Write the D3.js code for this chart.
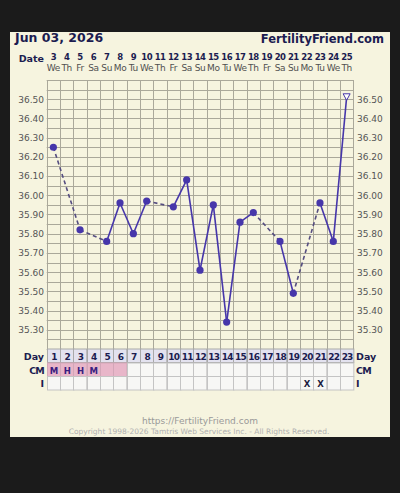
<!DOCTYPE html>
<html>
<head>
<meta charset="utf-8">
<script src="https://cdn.jsdelivr.net/npm/d3@7"></script>
<style>
  body { margin: 0; background: #1b1b1b; }
  svg { display: block; font-family: "DejaVu Sans", Verdana, sans-serif; }
</style>
</head>
<body>
<div id="chart"></div>
<script>
var days = [1,2,3,4,5,6,7,8,9,10,11,12,13,14,15,16,17,18,19,20,21,22,23];
var dates = [3,4,5,6,7,8,9,10,11,12,13,14,15,16,17,18,19,20,21,22,23,24,25];
var weekdays = ['We','Th','Fr','Sa','Su','Mo','Tu','We','Th','Fr','Sa','Su','Mo','Tu','We','Th','Fr','Sa','Su','Mo','Tu','We','Th'];
var temps = [36.25, null, 35.82, null, 35.76, 35.96, 35.80, 35.97, null, 35.94, 36.08, 35.61, 35.95, 35.34, 35.86, 35.91, null, 35.76, 35.49, null, 35.96, 35.76, 36.51];
var openPoint = [23];   // drawn as an open triangle
var cmValues = ['M','H','H','M','','','','','','','','','','','','','','','','','','',''];
var cmPink = 6;         // days shaded pink in CM row
var intercourse = [20, 21];
var yTicks = [35.30,35.40,35.50,35.60,35.70,35.80,35.90,36.00,36.10,36.20,36.30,36.40,36.50];

var W = 400, H = 493;
var svg = d3.select('#chart').append('svg').attr('width', W).attr('height', H);

// cream panel
svg.append('rect').attr('x', 10).attr('y', 32).attr('width', 380).attr('height', 405).attr('fill', '#f6f4df');

var x = d3.scaleBand().domain(days).range([46.7, 353.3]);
var y = d3.scaleLinear().domain([35.2, 36.6]).range([349, 80]);
var navy = '#1c1c50';

// header
svg.append('text').attr('x', 15).attr('y', 42).attr('font-size', 12.5).attr('font-weight', 'bold')
    .attr('fill', navy).text('Jun 03, 2026');
svg.append('text').attr('x', 384).attr('y', 43).attr('text-anchor', 'end').attr('font-size', 11.5)
    .attr('font-weight', 'bold').attr('fill', navy).text('FertilityFriend.com');
svg.append('text').attr('x', 44).attr('y', 62).attr('text-anchor', 'end').attr('font-size', 9.5)
    .attr('font-weight', 'bold').attr('fill', navy).text('Date');

svg.selectAll('.dnum').data(dates).enter().append('text')
    .attr('x', (d, i) => x(days[i]) + x.bandwidth() / 2).attr('y', 59.5)
    .attr('text-anchor', 'middle').attr('font-size', 8.5).attr('font-weight', 'bold')
    .attr('letter-spacing', -0.6).attr('fill', navy).text(d => d);
svg.selectAll('.wday').data(weekdays).enter().append('text')
    .attr('x', (d, i) => x(days[i]) + x.bandwidth() / 2).attr('y', 71)
    .attr('text-anchor', 'middle').attr('font-size', 9).attr('fill', '#505050')
    .attr('letter-spacing', -0.4).text(d => d);

// grid
var g = svg.append('g');
g.selectAll('.hl').data(d3.range(0, 29)).enter().append('line')
    .attr('x1', 46.7).attr('x2', 353.3)
    .attr('y1', d => Math.round(y(35.2 + d * 0.05)) + 0.5).attr('y2', d => Math.round(y(35.2 + d * 0.05)) + 0.5)
    .attr('stroke', '#aaa89a').attr('stroke-width', 1);
g.selectAll('.vl').data(days.concat([24])).enter().append('line')
    .attr('x1', d => Math.round(d <= 23 ? x(d) : x.range()[1]) + 0.5)
    .attr('x2', d => Math.round(d <= 23 ? x(d) : x.range()[1]) + 0.5)
    .attr('y1', 80).attr('y2', 349)
    .attr('stroke', '#aaa89a').attr('stroke-width', 1);

// y axes
var fmt = d3.format('.2f');
svg.append('g').attr('transform', 'translate(44,0)')
    .call(d3.axisLeft(y).tickValues(yTicks).tickFormat(fmt).tickSize(0).tickPadding(0))
    .call(a => a.select('.domain').remove())
    .call(a => a.selectAll('text').attr('font-size', 9).attr('fill', '#555').attr('font-family', '"DejaVu Sans", sans-serif'));
svg.append('g').attr('transform', 'translate(357,0)')
    .call(d3.axisRight(y).tickValues(yTicks).tickFormat(fmt).tickSize(0).tickPadding(0))
    .call(a => a.select('.domain').remove())
    .call(a => a.selectAll('text').attr('font-size', 9).attr('fill', '#555').attr('font-family', '"DejaVu Sans", sans-serif'));

// temperature line
var pts = [];
temps.forEach((t, i) => { if (t != null) pts.push({day: days[i], t: t}); });
var cx = d => x(d.day) + x.bandwidth() / 2;
var purple = '#4636aa';
for (var i = 0; i < pts.length - 1; i++) {
    var a = pts[i], b = pts[i + 1];
    var gap = b.day - a.day > 1;
    svg.append('line')
        .attr('x1', cx(a)).attr('y1', y(a.t)).attr('x2', cx(b)).attr('y2', y(b.t))
        .attr('stroke', gap ? '#554d80' : purple)
        .attr('stroke-width', 1.6)
        .attr('stroke-dasharray', gap ? '4,3' : null);
}
svg.selectAll('.dot').data(pts.filter(d => openPoint.indexOf(d.day) < 0)).enter().append('circle')
    .attr('cx', cx).attr('cy', d => y(d.t)).attr('r', 3.6).attr('fill', purple);
svg.selectAll('.tri').data(pts.filter(d => openPoint.indexOf(d.day) >= 0)).enter().append('path')
    .attr('d', d => { var px = cx(d), py = y(d.t); return `M${px - 3.5},${py - 3.5}L${px + 3.5},${py - 3.5}L${px},${py + 3}Z`; })
    .attr('fill', '#fff').attr('stroke', purple).attr('stroke-width', 1);

// table
var rowTop = [349, 363, 376.5], rowH = 13.5;
var cellX = d => Math.round(x(d)) + 0.5;
days.forEach(d => {
    svg.append('rect').attr('x', cellX(d)).attr('y', rowTop[0]).attr('width', x.bandwidth()).attr('height', rowH)
        .attr('fill', '#e3e2ef').attr('stroke', '#a9a9a9');
    svg.append('rect').attr('x', cellX(d)).attr('y', rowTop[1]).attr('width', x.bandwidth()).attr('height', rowH)
        .attr('fill', d <= cmPink ? '#e8b6c9' : '#f7f7f5').attr('stroke', d <= cmPink ? '#d3a6b8' : '#c4c4c4');
    svg.append('rect').attr('x', cellX(d)).attr('y', rowTop[2]).attr('width', x.bandwidth()).attr('height', rowH)
        .attr('fill', '#f7f7f5').attr('stroke', '#c4c4c4');
});
svg.selectAll('.dayn').data(days).enter().append('text')
    .attr('x', d => x(d) + x.bandwidth() / 2 + 0.5).attr('y', rowTop[0] + 10.5)
    .attr('text-anchor', 'middle').attr('font-size', 9).attr('font-weight', 'bold')
    .attr('letter-spacing', -0.8).attr('fill', navy).text(d => d);
svg.selectAll('.cm').data(cmValues).enter().append('text')
    .attr('x', (d, i) => x(days[i]) + x.bandwidth() / 2 + 0.5).attr('y', rowTop[1] + 10.5)
    .attr('text-anchor', 'middle').attr('font-size', 8.5).attr('font-weight', 'bold')
    .attr('fill', '#3a2080').text(d => d);
svg.selectAll('.ix').data(intercourse).enter().append('text')
    .attr('x', d => x(d) + x.bandwidth() / 2 + 0.5).attr('y', rowTop[2] + 10.5)
    .attr('text-anchor', 'middle').attr('font-size', 8.5).attr('font-weight', 'bold')
    .attr('fill', '#1c1c40').text('X');

var rowLabels = ['Day', 'CM', 'I'];
rowLabels.forEach((lbl, i) => {
    svg.append('text').attr('x', 44).attr('y', rowTop[i] + 10.5).attr('text-anchor', 'end')
        .attr('font-size', 9.5).attr('font-weight', 'bold').attr('fill', navy)
        .attr('letter-spacing', lbl == 'CM' ? -0.8 : 0).text(lbl);
    svg.append('text').attr('x', 356).attr('y', rowTop[i] + 10.5)
        .attr('font-size', 9.5).attr('font-weight', 'bold').attr('fill', navy)
        .attr('letter-spacing', lbl == 'CM' ? -0.8 : 0).text(lbl);
});

// footer
svg.append('text').attr('x', 200).attr('y', 424).attr('text-anchor', 'middle')
    .attr('font-size', 9).attr('fill', '#999').text('https://FertilityFriend.com');
svg.append('text').attr('x', 199).attr('y', 434).attr('text-anchor', 'middle')
    .attr('font-size', 7.5).attr('fill', '#b0b0b0').text('Copyright 1998-2026 Tamtris Web Services Inc. - All Rights Reserved.');
</script>
</body>
</html>
